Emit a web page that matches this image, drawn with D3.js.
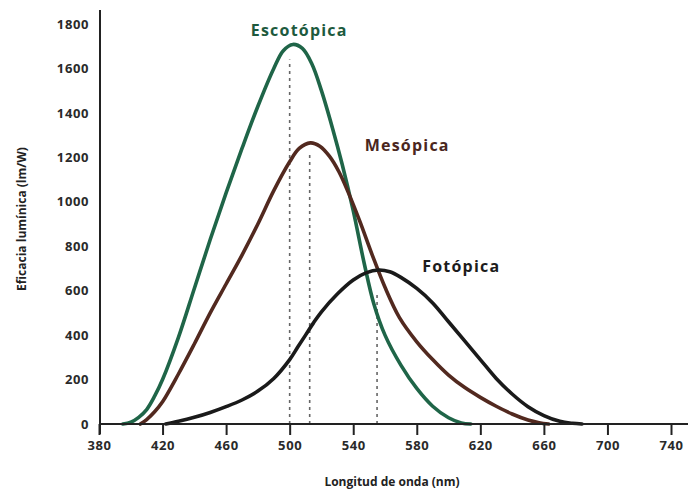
<!DOCTYPE html>
<html>
<head>
<meta charset="utf-8">
<script src="https://cdn.jsdelivr.net/npm/d3@7"></script>
<style>
  body { margin: 0; background: #fff; }
  svg { display: block; }
  text { font-family: "Open Sans", "DejaVu Sans", sans-serif; }
</style>
</head>
<body>
<svg id="chart" width="688" height="493"></svg>
<script>
// wavelengths (nm) and luminous efficacy (lm/W)
const escotopicaNm = [395, 400, 405, 410, 415, 420, 430, 440, 450, 460, 470, 480, 490, 496, 502, 508, 514, 520, 527, 533, 540, 547, 553, 560, 570, 580, 590, 600, 608, 614];
const escotopicaVal = [0, 8, 30, 65, 125, 200, 390, 610, 830, 1040, 1240, 1430, 1600, 1680, 1708, 1690, 1620, 1500, 1330, 1170, 960, 720, 540, 400, 265, 160, 80, 28, 5, 0];

const mesopicaNm = [406, 410, 415, 420, 430, 440, 450, 460, 470, 480, 490, 500, 506, 513, 519, 525, 531, 537, 544, 552, 560, 569, 580, 590, 600, 610, 620, 630, 640, 650, 657, 663];
const mesopicaVal = [0, 20, 55, 100, 225, 360, 500, 630, 760, 900, 1050, 1180, 1240, 1265, 1250, 1205, 1135, 1040, 915, 760, 615, 480, 370, 290, 220, 165, 120, 80, 45, 18, 6, 0];

const fotopicaNm = [422, 430, 440, 450, 460, 470, 480, 490, 500, 505, 510, 515, 520, 530, 540, 548, 556, 563, 570, 580, 590, 600, 610, 620, 630, 640, 650, 660, 670, 678, 684];
const fotopicaVal = [0, 12, 30, 52, 78, 108, 148, 205, 290, 345, 400, 455, 505, 585, 648, 680, 693, 685, 660, 610, 545, 460, 375, 290, 205, 135, 78, 38, 12, 3, 0];

// peak markers (dashed verticals): wavelength and height
const peakNm = [500, 512.6, 555];
const peakTop = [1640, 1225, 590];

const seriesNames = ['Escotópica', 'Mesópica', 'Fotópica'];
const xTicks = [380, 420, 460, 500, 540, 580, 620, 660, 700, 740];
const yTicks = [0, 200, 400, 600, 800, 1000, 1200, 1400, 1600, 1800];

const colors = ['#1f6548', '#52291f', '#1a1a1a'];
const textColors = ['#1d5a3e', '#4a2620', '#1c1c1c'];

const svg = d3.select('#chart');

const x = d3.scaleLinear().domain([380, 740]).range([99, 671]);
const y = d3.scaleLinear().domain([0, 1800]).range([424, 24]);

// dashed peak lines, behind the curves
svg.append('g')
  .selectAll('line')
  .data(peakNm)
  .enter().append('line')
  .attr('x1', d => x(d)).attr('x2', d => x(d))
  .attr('y1', y(0))
  .attr('y2', (d, i) => y(peakTop[i]))
  .attr('stroke', '#666')
  .attr('stroke-width', 1.6)
  .attr('stroke-dasharray', '3,4');

// curves
const line = d3.line()
  .x(d => x(d[0]))
  .y(d => y(d[1]))
  .curve(d3.curveCatmullRom.alpha(0.5));

const series = [
  d3.zip(escotopicaNm, escotopicaVal),
  d3.zip(mesopicaNm, mesopicaVal),
  d3.zip(fotopicaNm, fotopicaVal)
];

svg.append('g')
  .selectAll('path')
  .data(series)
  .enter().append('path')
  .attr('d', line)
  .attr('fill', 'none')
  .attr('stroke', (d, i) => colors[i])
  .attr('stroke-width', 3.6)
  .attr('stroke-linejoin', 'round')
  .attr('stroke-linecap', 'round');

// x axis
const xAxis = svg.append('g')
  .attr('transform', `translate(0,${y(0)})`)
  .call(d3.axisBottom(x).tickValues(xTicks).tickFormat(d3.format('d'))
    .tickSize(11).tickSizeOuter(0).tickPadding(6));
xAxis.select('.domain').remove();
xAxis.selectAll('.tick line').attr('stroke', '#222').attr('stroke-width', 2);
xAxis.selectAll('.tick text')
  .attr('fill', '#2a2a2a')
  .style('font-size', '13px')
  .style('font-weight', 700)
  .style('letter-spacing', '0.6px');

svg.append('line')
  .attr('x1', x(380)).attr('x2', 688)
  .attr('y1', y(0)).attr('y2', y(0))
  .attr('stroke', '#222').attr('stroke-width', 2);

// y axis (no tick marks, only labels)
const yAxis = svg.append('g')
  .attr('transform', `translate(${x(380) + 1},0)`)
  .call(d3.axisLeft(y).tickValues(yTicks).tickFormat(d3.format('d'))
    .tickSize(0).tickPadding(11));
yAxis.select('.domain').remove();
yAxis.selectAll('.tick text')
  .attr('fill', '#2a2a2a')
  .style('font-size', '13px')
  .style('font-weight', 700)
  .style('letter-spacing', '0.6px');

svg.append('line')
  .attr('x1', x(380) + 1).attr('x2', x(380) + 1)
  .attr('y1', 10).attr('y2', y(0) + 10)
  .attr('stroke', '#222').attr('stroke-width', 2);

// axis titles
svg.append('text')
  .attr('x', 392).attr('y', 486)
  .attr('text-anchor', 'middle')
  .attr('fill', '#222')
  .style('font-size', '12px')
  .style('font-weight', 700)
  .text('Longitud de onda (nm)');

svg.append('text')
  .attr('transform', 'translate(26,219) rotate(-90)')
  .attr('text-anchor', 'middle')
  .attr('fill', '#222')
  .style('font-size', '12px')
  .style('font-weight', 700)
  .text('Eficacia lumínica (lm/W)');

// curve labels
const labelNm = [506, 574, 608];
const labelVal = [1745, 1229, 684];
svg.append('g')
  .selectAll('text')
  .data(seriesNames)
  .enter().append('text')
  .attr('x', (d, i) => x(labelNm[i]))
  .attr('y', (d, i) => y(labelVal[i]))
  .attr('text-anchor', 'middle')
  .attr('fill', (d, i) => textColors[i])
  .style('font-size', '16px')
  .style('font-weight', 700)
  .style('letter-spacing', '1.2px')
  .text(d => d);
</script>
</body>
</html>
